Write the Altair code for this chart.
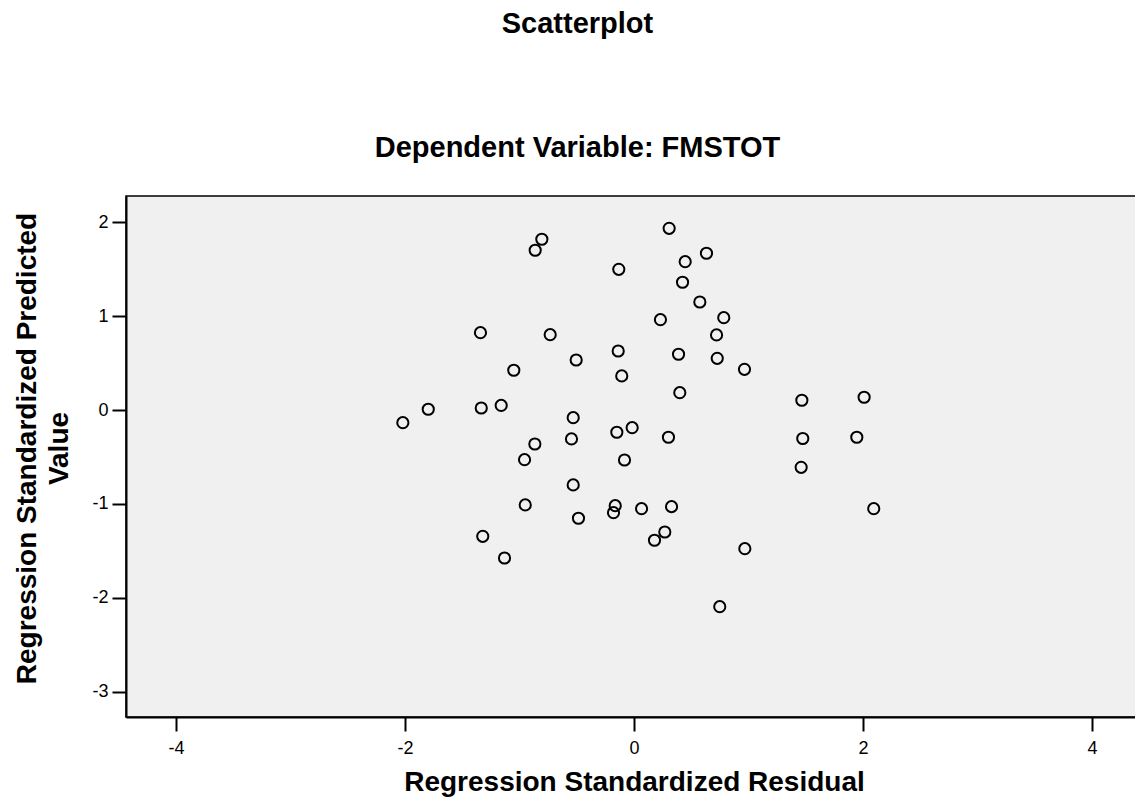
import altair as alt
import pandas as pd

residual = [-1.341, -2.019, -1.797, -1.334, -1.160, -0.805, -0.863, 0.307, -0.133, 0.447,
            0.633, 0.424, 0.575, 0.231, 0.784, 0.721, -0.732, -0.138, 0.389, 0.727,
            -0.505, -1.050, -0.107, 0.965, 0.400, 1.466, 2.010, -0.531, -0.546, -0.150,
            -0.016, 0.301, 1.474, 1.946, -0.866, -0.956, -0.083, 1.460, -0.531, -0.950,
            -0.164, -0.179, 0.066, 0.328, -0.485, 2.094, 0.269, 0.179, -1.321, -1.131,
            0.968, 0.749]
predicted = [0.824, -0.135, 0.008, 0.022, 0.049, 1.819, 1.702, 1.936, 1.499, 1.580,
             1.670, 1.361, 1.151, 0.963, 0.984, 0.800, 0.803, 0.629, 0.594, 0.551,
             0.533, 0.424, 0.363, 0.434, 0.185, 0.104, 0.136, -0.081, -0.308, -0.237,
             -0.188, -0.290, -0.303, -0.290, -0.362, -0.529, -0.532, -0.610, -0.798, -1.011,
             -1.019, -1.093, -1.051, -1.029, -1.153, -1.051, -1.299, -1.387, -1.345, -1.576,
             -1.477, -2.095]

x_ticks = [-4, -2, 0, 2, 4]
y_ticks = [-3, -2, -1, 0, 1, 2]

df = pd.DataFrame({"residual": residual, "predicted": predicted})

FONT = "Liberation Sans"

chart = alt.Chart(df).mark_point(
    shape="circle", filled=False, stroke="black", strokeWidth=2, size=125, opacity=1
).encode(
    x=alt.X("residual:Q",
            scale=alt.Scale(domain=[-4.437, 4.437], nice=False, zero=False),
            axis=alt.Axis(values=x_ticks, labelExpr="datum.value + ''",
                          title="Regression Standardized Residual",
                          labelPadding=8, titleBaseline="alphabetic", titleY=73)),
    y=alt.Y("predicted:Q",
            scale=alt.Scale(domain=[-3.270, 2.280], nice=False, zero=False),
            axis=alt.Axis(values=y_ticks, labelExpr="datum.value + ''",
                          title=["Regression Standardized Predicted", "Value"],
                          labelPadding=4, titleAngle=270, titleBaseline="alphabetic",
                          titleX=-91, titleY=252, titleLineHeight=32)),
).properties(
    width=1016,
    height=521,
    autosize=alt.AutoSizeParams(type="none"),
    padding={"left": 118, "top": 188, "right": -7, "bottom": 80},
    title=alt.TitleParams(
        text="Scatterplot", subtitle="Dependent Variable: FMSTOT",
        font=FONT, subtitleFont=FONT, fontSize=29, subtitleFontSize=29,
        fontWeight="bold", subtitleFontWeight="bold", color="black", subtitleColor="black",
        anchor="middle", frame="bounds", offset=33, subtitlePadding=95,
    ),
).configure_view(
    fill="#f0f0f0", stroke="black", strokeWidth=1.5
).configure_axis(
    grid=False, domainColor="black", domainWidth=2, tickColor="black", tickWidth=2,
    tickSize=14, labelFont=FONT, labelFontSize=18, labelColor="black",
    labelFlush=False, labelOverlap=False,
    titleFont=FONT, titleFontSize=28, titleFontWeight="bold", titleColor="black",
)

chart.save("out.html", embed_options={"renderer": "svg", "actions": False})
